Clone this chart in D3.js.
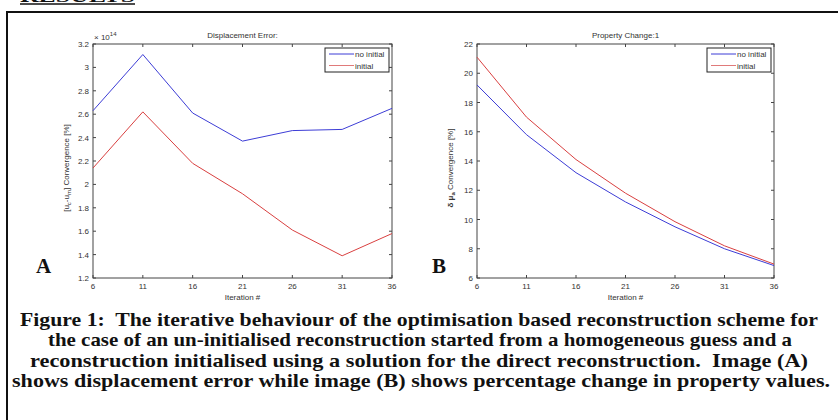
<!DOCTYPE html>
<html>
<head>
<meta charset="utf-8">
<script src="https://d3js.org/d3.v7.min.js"></script>
<style>
  body { margin: 0; background: #fff; }
  svg { display: block; }
  .tick-label { font-family: "Liberation Sans", Arial, sans-serif; font-size: 8px; fill: #333; }
  .serif { font-family: "Liberation Serif", "Times New Roman", Times, serif; font-weight: bold; fill: #111; white-space: pre; }
</style>
</head>
<body>
<script>
// iteration numbers on the x axis
var iterations = [6, 11, 16, 21, 26, 31, 36];

// panel A: displacement error (x 10^14)
var dispNoInitial = [2.63, 3.11, 2.61, 2.37, 2.46, 2.47, 2.65];
var dispInitial   = [2.14, 2.62, 2.18, 1.92, 1.61, 1.39, 1.58];
var dispTicks = [1.2, 1.4, 1.6, 1.8, 2, 2.2, 2.4, 2.6, 2.8, 3, 3.2];

// panel B: property change
var propNoInitial = [19.2, 15.8, 13.2, 11.2, 9.5, 8.0, 6.85];
var propInitial   = [21.1, 17.0, 14.1, 11.8, 9.85, 8.2, 6.95];
var propTicks = [6, 8, 10, 12, 14, 16, 18, 20, 22];

var legendLabels = ["no initial", "initial"];
var captionLines = [
  "Figure 1:  The iterative behaviour of the optimisation based reconstruction scheme for",
  "the case of an un-initialised reconstruction started from a homogeneous guess and a",
  "reconstruction initialised using a solution for the direct reconstruction.  Image (A)",
  "shows displacement error while image (B) shows percentage change in property values."
];

var W = 838, H = 420;
var blue = "#3d3dd6", red = "#d94040";

var svg = d3.select("body").append("svg").attr("width", W).attr("height", H);

// heading, mostly cut off at the top edge
svg.append("text").attr("class", "serif").attr("x", 20).attr("y", 2)
  .attr("font-size", 16).attr("textLength", 115).attr("lengthAdjust", "spacingAndGlyphs")
  .text("RESULTS");
svg.append("line").attr("x1", 20).attr("x2", 135).attr("y1", 4).attr("y2", 4)
  .attr("stroke", "#111").attr("stroke-width", 1.5);

// frame
svg.append("path").attr("d", "M7,420 V12 H838")
  .attr("fill", "none").attr("stroke", "#111").attr("stroke-width", 2);

function drawPanel(p) {
  var x = d3.scaleLinear().domain([6, 36]).range([p.left, p.right]);
  var y = d3.scaleLinear().domain(p.yDomain).range([278, 44]);
  var g = svg.append("g");

  // axes box with inward ticks
  g.append("rect").attr("x", p.left).attr("y", 44)
    .attr("width", p.right - p.left).attr("height", 234)
    .attr("fill", "none").attr("stroke", "#444").attr("stroke-width", 1);

  iterations.forEach(function (v) {
    g.append("line").attr("x1", x(v)).attr("x2", x(v)).attr("y1", 278).attr("y2", 275).attr("stroke", "#444");
    g.append("line").attr("x1", x(v)).attr("x2", x(v)).attr("y1", 44).attr("y2", 47).attr("stroke", "#444");
    g.append("text").attr("class", "tick-label").attr("x", x(v)).attr("y", 289)
      .attr("text-anchor", "middle").text(v);
  });
  p.yTicks.forEach(function (v) {
    g.append("line").attr("x1", p.left).attr("x2", p.left + 3).attr("y1", y(v)).attr("y2", y(v)).attr("stroke", "#444");
    g.append("line").attr("x1", p.right).attr("x2", p.right - 3).attr("y1", y(v)).attr("y2", y(v)).attr("stroke", "#444");
    g.append("text").attr("class", "tick-label").attr("x", p.left - 4).attr("y", y(v) + 3)
      .attr("text-anchor", "end").text(v);
  });

  // title and x label
  g.append("text").attr("class", "tick-label").attr("x", (p.left + p.right) / 2).attr("y", 38)
    .attr("text-anchor", "middle").text(p.title);
  g.append("text").attr("class", "tick-label").attr("x", (p.left + p.right) / 2).attr("y", 300)
    .attr("text-anchor", "middle").text("Iteration #");

  // y label
  var yl = g.append("text").attr("class", "tick-label")
    .attr("transform", "translate(" + (p.left - 24) + ",168) rotate(-90)")
    .attr("text-anchor", "middle");
  p.yLabel(yl);

  if (p.exponent) {
    var ex = g.append("text").attr("class", "tick-label").attr("x", p.left + 1).attr("y", 40);
    ex.append("tspan").text("\u00d7 10");
    ex.append("tspan").attr("dy", -4).attr("font-size", 6).text("14");
  }

  // lines
  var line = d3.line().x(function (d, i) { return x(iterations[i]); }).y(function (d) { return y(d); });
  g.append("path").datum(p.noInit).attr("d", line).attr("fill", "none").attr("stroke", blue).attr("stroke-width", 1);
  g.append("path").datum(p.init).attr("d", line).attr("fill", "none").attr("stroke", red).attr("stroke-width", 1);

  // legend
  var lx = p.right - 67;
  g.append("rect").attr("x", lx).attr("y", 48).attr("width", 64).attr("height", 24)
    .attr("fill", "#fff").attr("stroke", "#222").attr("stroke-width", 1);
  legendLabels.forEach(function (lab, i) {
    var ly = 54 + i * 11.5;
    g.append("line").attr("x1", lx + 4).attr("x2", lx + 29).attr("y1", ly).attr("y2", ly)
      .attr("stroke", i === 0 ? blue : "#e07a7a").attr("stroke-width", 1);
    g.append("text").attr("class", "tick-label").attr("x", lx + 30).attr("y", ly + 3).text(lab);
  });

  // panel letter
  svg.append("text").attr("class", "serif").attr("x", p.letterX).attr("y", 273)
    .attr("font-size", 21).text(p.letter);
}

drawPanel({
  left: 93, right: 392, yDomain: [1.2, 3.2], yTicks: dispTicks,
  noInit: dispNoInitial, init: dispInitial,
  title: "Displacement Error:", exponent: true, letter: "A", letterX: 36,
  yLabel: function (t) {
    t.append("tspan").text("[u");
    t.append("tspan").attr("dy", 2).attr("font-size", 6).text("c");
    t.append("tspan").attr("dy", -2).text("-u");
    t.append("tspan").attr("dy", 2).attr("font-size", 6).text("m");
    t.append("tspan").attr("dy", -2).text("] Convergence [%]");
  }
});

drawPanel({
  left: 477, right: 774, yDomain: [6, 22], yTicks: propTicks,
  noInit: propNoInitial, init: propInitial,
  title: "Property Change:1", exponent: false, letter: "B", letterX: 432,
  yLabel: function (t) {
    t.append("tspan").attr("font-weight", "bold").text("\u03b4 \u03bc");
    t.append("tspan").attr("dy", 2).attr("font-size", 6).attr("font-weight", "bold").text("a");
    t.append("tspan").attr("dy", -2).text(" Convergence [%]");
  }
});

// caption, horizontally squeezed like the original
var capX = [[20, 818], [48, 792], [30, 808], [12, 830]];
captionLines.forEach(function (s, i) {
  svg.append("text").attr("class", "serif").attr("font-size", 19.5)
    .attr("x", capX[i][0]).attr("y", 326 + i * 20.3)
    .attr("textLength", capX[i][1] - capX[i][0]).attr("lengthAdjust", "spacingAndGlyphs")
    .text(s);
});
</script>
</body>
</html>
